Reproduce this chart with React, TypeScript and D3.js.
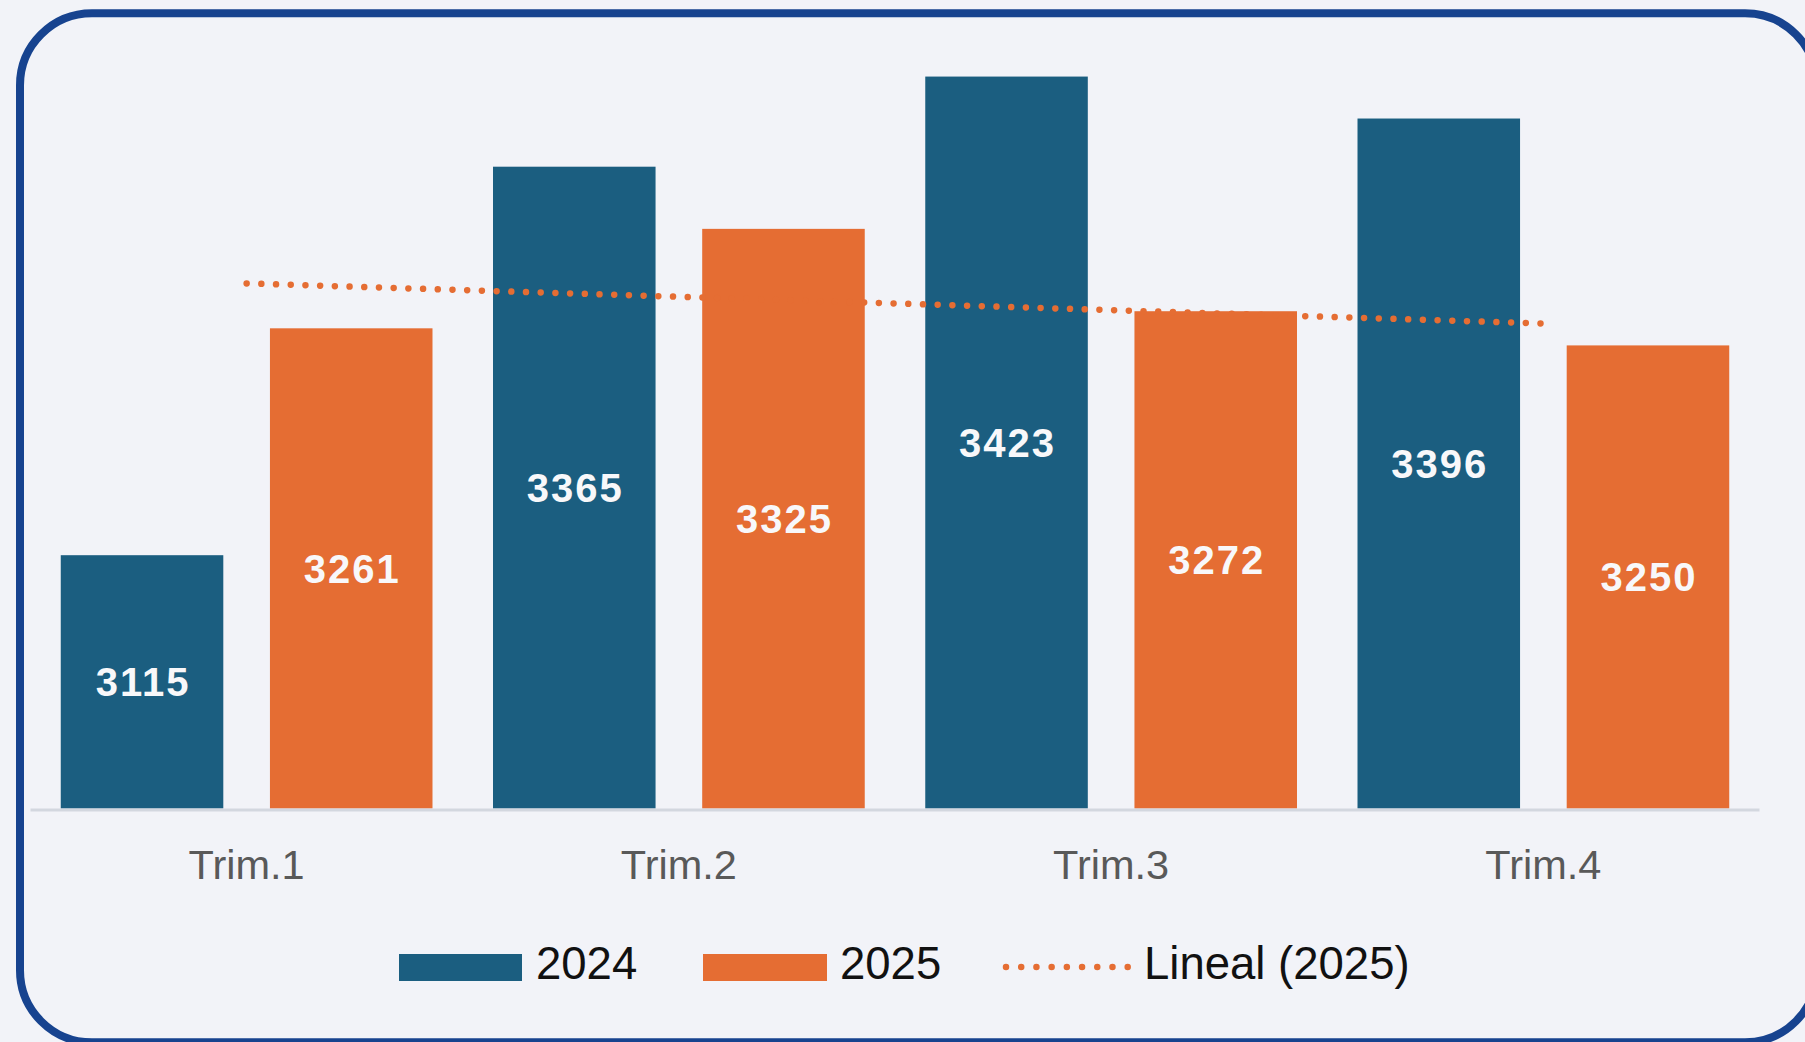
import React from "react";
import * as d3 from "d3";

const categories = ["Trim.1", "Trim.2", "Trim.3", "Trim.4"];
const seriesNames = ["2024", "2025"];
const values2024 = [3115, 3365, 3423, 3396];
const values2025 = [3261, 3325, 3272, 3250];
const trendLabel = "Lineal (2025)";

const W = 1805;
const H = 1042;
const BLUE = "#1b5e80";
const ORANGE = "#e56d33";
const BG = "#f2f3f8";
const FONT = "'Liberation Sans', Arial, Helvetica, sans-serif";

export default function App() {
  const x0 = d3
    .scaleBand<string>()
    .domain(categories)
    .range([30.5, 1759.5])
    .paddingInner(0.14)
    .paddingOuter(0.07);
  const x1 = d3
    .scaleBand<string>()
    .domain(seriesNames)
    .range([0, x0.bandwidth()])
    .paddingInner(0.223)
    .paddingOuter(0);
  const y = d3.scaleLinear().domain([2952, 3452]).range([808.5, 31.5]);

  const series = [
    { name: seriesNames[0], values: values2024, color: BLUE },
    { name: seriesNames[1], values: values2025, color: ORANGE },
  ];

  // linear trend for 2025
  const xs = values2025.map((_, i) => i + 1);
  const mx = d3.mean(xs) as number;
  const my = d3.mean(values2025) as number;
  const sxy = d3.sum(xs.map((xv, i) => (xv - mx) * (values2025[i] - my)));
  const sxx = d3.sum(xs.map((xv) => (xv - mx) * (xv - mx)));
  const slope = sxy / sxx;
  const intercept = my - slope * mx;
  const trendPts: [number, number][] = [
    [x0(categories[0])! + x0.bandwidth() / 2, y(intercept + slope * 1)],
    [
      x0(categories[categories.length - 1])! + x0.bandwidth() / 2,
      y(intercept + slope * categories.length),
    ],
  ];
  const line = d3.line();

  const legendY = 967;

  return (
    <svg
      width={W}
      height={H}
      style={{ position: "absolute", left: 0, top: 0, display: "block" }}
      fontFamily={FONT}
    >
      <rect x={0} y={0} width={W} height={H} fill={BG} />
      <rect
        x={20}
        y={13.3}
        width={1797}
        height={1029}
        rx={72}
        ry={72}
        fill={BG}
        stroke="#17438f"
        strokeWidth={8}
      />
      {/* bars */}
      {categories.map((c, ci) => (
        <g key={c} transform={`translate(${x0(c)},0)`}>
          {series.map((s) => {
            const v = s.values[ci];
            const bx = x1(s.name)!;
            const top = y(v);
            const bh = y.range()[0] - top;
            return (
              <g key={s.name}>
                <rect x={bx} y={top} width={x1.bandwidth()} height={bh} fill={s.color} />
                <text
                  x={bx + x1.bandwidth() / 2 + 1}
                  y={top + bh / 2}
                  dy="0.36em"
                  textAnchor="middle"
                  fill="#f8f8fa"
                  fontWeight="bold"
                  fontSize={40}
                  letterSpacing={2}
                >
                  {v}
                </text>
              </g>
            );
          })}
        </g>
      ))}
      {/* axis line */}
      <line x1={30.5} x2={1759.5} y1={810} y2={810} stroke="#d3d7df" strokeWidth={3} />
      {categories.map((c) => (
        <text
          key={c}
          x={x0(c)! + x0.bandwidth() / 2}
          y={879}
          textAnchor="middle"
          fill="#595959"
          fontSize={41.5}
        >
          {c}
        </text>
      ))}
      {/* trendline */}
      <path
        d={line(trendPts) || ""}
        fill="none"
        stroke={ORANGE}
        strokeWidth={6.5}
        strokeLinecap="round"
        strokeDasharray="0.01 14.7"
      />
      {/* legend */}
      <g>
        <rect x={399} y={954} width={123} height={27} fill={BLUE} />
        <text x={536} y={979} fontSize={45.5} fill="#111">
          {seriesNames[0]}
        </text>
        <rect x={703} y={954} width={124} height={27} fill={ORANGE} />
        <text x={840} y={979} fontSize={45.5} fill="#111">
          {seriesNames[1]}
        </text>
        <line
          x1={1006}
          x2={1128}
          y1={legendY}
          y2={legendY}
          stroke={ORANGE}
          strokeWidth={6.5}
          strokeLinecap="round"
          strokeDasharray="0.01 15.2"
        />
        <text x={1144} y={979} fontSize={45.5} fill="#111">
          {trendLabel}
        </text>
      </g>
    </svg>
  );
}
